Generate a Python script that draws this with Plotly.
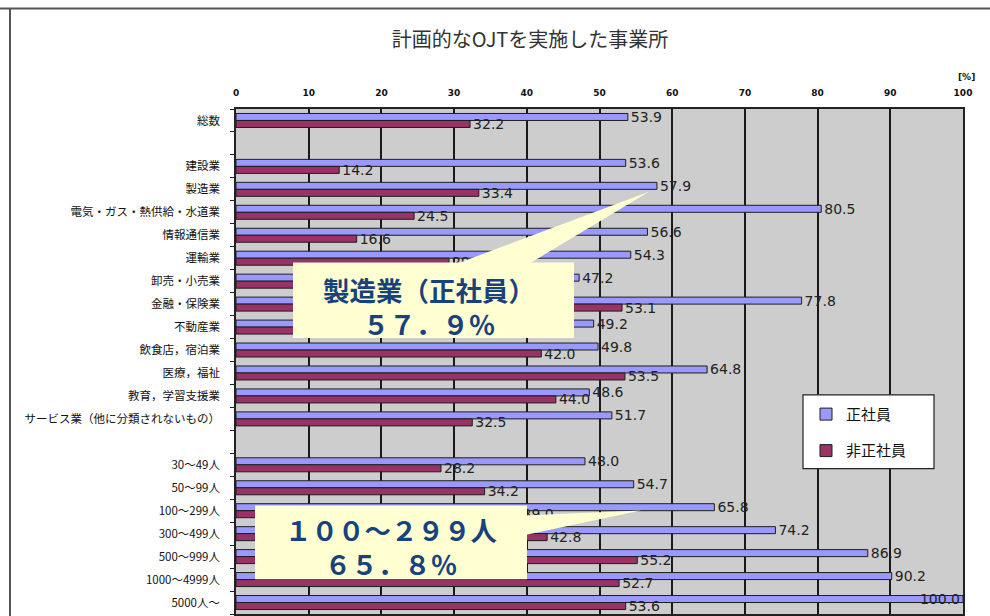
import plotly.graph_objects as go

# Row labels (None = blank spacer row)
categories = [
    "総数", None,
    "建設業", "製造業", "電気・ガス・熱供給・水道業", "情報通信業", "運輸業",
    "卸売・小売業", "金融・保険業", "不動産業", "飲食店，宿泊業", "医療，福祉",
    "教育，学習支援業", "サービス業（他に分類されないもの）", None,
    "30～49人", "50～99人", "100～299人", "300～499人", "500～999人",
    "1000～4999人", "5000人～",
]
regular = [53.9, None, 53.6, 57.9, 80.5, 56.6, 54.3, 47.2, 77.8, 49.2, 49.8,
           64.8, 48.6, 51.7, None, 48.0, 54.7, 65.8, 74.2, 86.9, 90.2, 100.0]
non_regular = [32.2, None, 14.2, 33.4, 24.5, 16.6, 29.3, 31.5, 53.1, 27.0, 42.0,
               53.5, 44.0, 32.5, None, 28.2, 34.2, 39.0, 42.8, 55.2, 52.7, 53.6]
x_ticks = list(range(0, 101, 10))

series_names = ["正社員", "非正社員"]
colors = ["#9999FF", "#993366"]

W, H = 990, 616
ML, MR, MT, MB = 236, 27, 109, 0
PW, PH = W - ML - MR, H - MT - MB


def px(x):
    return (x - ML) / PW


def py(y):
    return (H - MB - y) / PH


def fullwidth(s):
    return s.translate(str.maketrans("0123456789.%", "０１２３４５６７８９．％"))


rows = list(range(len(categories)))
label_rows = [r for r, c in zip(rows, categories) if c is not None]
label_text = [c for c in categories if c is not None]

fig = go.Figure()
for i, (name, vals) in enumerate(zip(series_names, [regular, non_regular])):
    fig.add_trace(go.Bar(
        y=rows, x=vals, orientation="h", name=name,
        legendgroup=name,
        marker=dict(color=colors[i], line=dict(color="#1e1e1e", width=1)),
        text=["" if v is None else f"{v:.1f}" for v in vals],
        textposition=["inside" if (v is not None and v >= 95) else "outside" for v in vals],
        insidetextanchor="end",
        constraintext="none",
        textfont=dict(family="DejaVu Sans", size=14, color="#222222"),
        cliponaxis=False,
    ))

fig.update_layout(
    width=W, height=H,
    margin=dict(l=ML, r=MR, t=MT, b=MB, pad=0),
    paper_bgcolor="white",
    plot_bgcolor="#CDCDCD",
    barmode="group",
    bargap=0.39,
    bargroupgap=0,
    title=dict(
        text="計画的なOJTを実施した事業所",
        font=dict(family="Noto Sans CJK JP", size=20, color="#333333"),
        x=530 / W, xref="container", xanchor="center",
        y=1 - 40 / H, yref="container", yanchor="middle",
    ),
    xaxis=dict(
        range=[0, 100], side="top", tickvals=x_ticks,
        ticktext=[str(t) for t in x_ticks],
        tickfont=dict(family="DejaVu Sans", size=9, color="#111111", weight="bold"),
        ticks="", ticklabelstandoff=8,
        showgrid=True, gridcolor="#1a1a1a", gridwidth=1.6,
        showline=True, linecolor="#222222", linewidth=1.5, mirror=True,
        zeroline=False, fixedrange=True,
    ),
    yaxis=dict(
        range=[len(categories) - 0.5, -0.5],
        tickmode="array", tickvals=label_rows, ticktext=label_text,
        tickfont=dict(family="Noto Sans CJK JP", size=11.5, color="#111111"),
        ticks="", ticklabelstandoff=12,
        minor=dict(ticks="outside", ticklen=4, tickcolor="#222222",
                   tick0=0.5, dtick=1, showgrid=False),
        showgrid=False, zeroline=False,
        showline=True, linecolor="#222222", linewidth=1.5, mirror=True,
        fixedrange=True,
    ),
    legend=dict(
        x=px(806), y=py(399), xanchor="left", yanchor="top",
        bgcolor="rgba(0,0,0,0)", borderwidth=0,
        font=dict(family="Noto Sans CJK JP", size=15, color="#111111"),
        traceorder="grouped", tracegroupgap=14,
    ),
    showlegend=True,
)

# legend frame
fig.add_shape(type="rect", xref="paper", yref="paper",
              x0=px(803), x1=px(934), y0=py(396), y1=py(470),
              fillcolor="white", line=dict(color="#222222", width=1.2), layer="above")

# unit label
fig.add_annotation(
    x=px(977), y=py(70), xref="paper", yref="paper", text="[%]",
    showarrow=False, font=dict(family="DejaVu Sans", size=9, color="#111111", weight="bold"),
)

# outer chart frame (top and left edges)
fig.add_shape(type="line", xref="paper", yref="paper",
              x0=px(0), x1=px(W), y0=py(8), y1=py(8),
              line=dict(color="#555555", width=2), layer="above")
fig.add_shape(type="line", xref="paper", yref="paper",
              x0=px(10), x1=px(10), y0=py(8), y1=py(H + 5),
              line=dict(color="#555555", width=2), layer="above")

# callout boxes with pointers
callout_fill = "#FFFFD2"
callout_color = "#17427C"


def callout(box, tip_path, center, text):
    x0, y0, x1, y1 = box
    fig.add_shape(type="rect", xref="paper", yref="paper",
                  x0=px(x0), x1=px(x1), y0=py(y0), y1=py(y1),
                  fillcolor=callout_fill, line=dict(width=0), layer="above")
    path = "M " + " L ".join(f"{px(a):.5f},{py(b):.5f}" for a, b in tip_path) + " Z"
    fig.add_shape(type="path", xref="paper", yref="paper", path=path,
                  fillcolor=callout_fill, line=dict(width=0), layer="above")
    fig.add_annotation(x=px(center[0]), y=py(center[1]), xref="paper", yref="paper",
                       text=text, showarrow=False, xanchor="center", yanchor="middle",
                       align="center",
                       font=dict(family="Noto Sans CJK JP", size=26.5,
                                 color=callout_color, weight="bold"))


i_mfg = categories.index("製造業")
i_mid = categories.index("100～299人")

callout((293, 263, 574, 339), [(455, 265), (528, 265), (649, 192)], (429, 307),
        "製造業（正社員）<br>" + fullwidth(f"{regular[i_mfg]:.1f}%"))
callout((255, 507, 527, 581), [(524, 517), (524, 537), (641, 512)], (391, 548),
        fullwidth("100") + "～" + fullwidth("299") + "人<br>"
        + fullwidth(f"{regular[i_mid]:.1f}%"))

fig.write_html("out.html")
